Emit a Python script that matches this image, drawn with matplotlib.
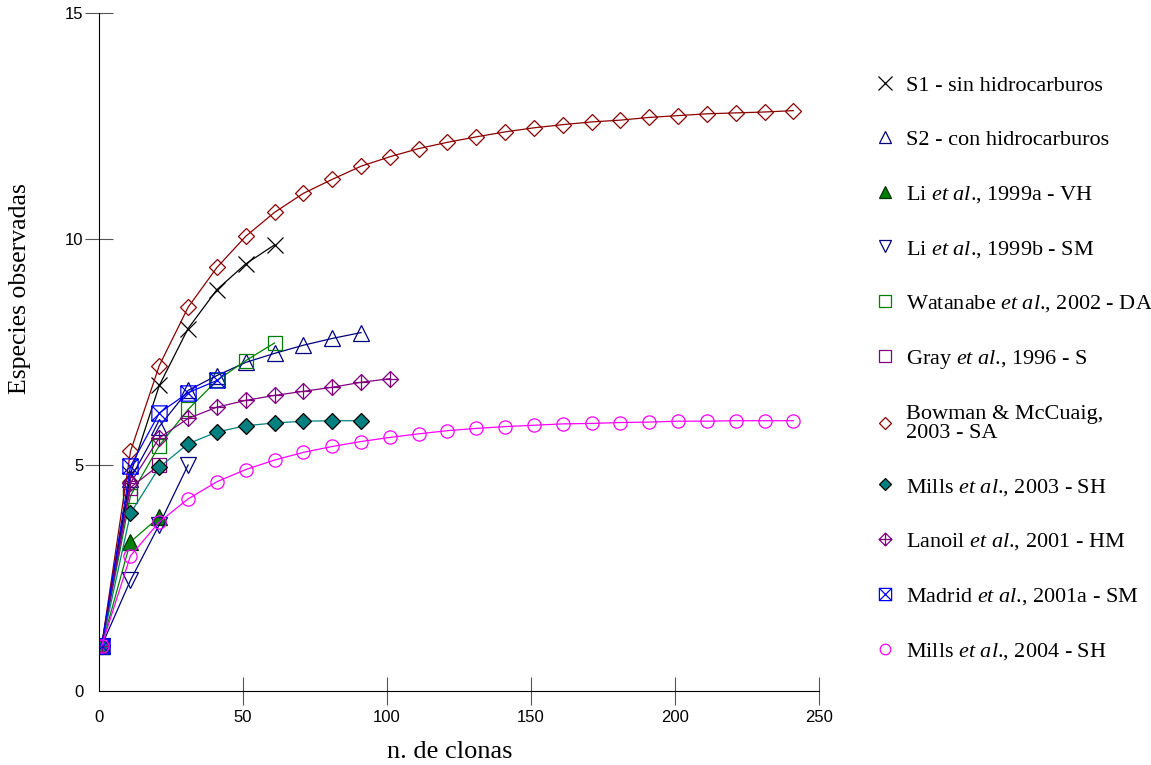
import numpy as np
import matplotlib
matplotlib.use('Agg')
import matplotlib.pyplot as plt
from matplotlib.path import Path

plt.rcParams['font.family'] = ['Liberation Serif', 'DejaVu Serif']
plt.rcParams['mathtext.fontset'] = 'custom'
plt.rcParams['mathtext.rm'] = 'Liberation Serif'
plt.rcParams['mathtext.it'] = 'Liberation Serif:italic'

# number of clones (x) for each series
x_s1 = [1, 11, 21, 31, 41, 51, 61]
y_s1 = [1, 4.8, 6.76, 8.02, 8.88, 9.45, 9.87]

x_s2 = [1, 11, 21, 31, 41, 51, 61, 71, 81, 91]
y_s2 = [1, 4.7, 5.85, 6.65, 6.98, 7.27, 7.47, 7.65, 7.8, 7.93]

x_li_a = [1, 11, 21]
y_li_a = [1, 3.3, 3.85]

x_li_b = [1, 11, 21, 31]
y_li_b = [1, 2.45, 3.68, 5.0]

x_wat = [1, 11, 21, 31, 41, 51, 61]
y_wat = [1, 4.32, 5.43, 6.23, 6.87, 7.31, 7.7]

x_gray = [1, 11, 21]
y_gray = [1, 4.5, 5.0]

x_bow = list(range(1, 242, 10))
y_bow = [1, 5.3, 7.2, 8.49, 9.37, 10.06, 10.59, 11.01, 11.32, 11.61, 11.82, 12.0,
         12.14, 12.26, 12.37, 12.46, 12.53, 12.59, 12.63, 12.69, 12.73, 12.77,
         12.79, 12.81, 12.84]

x_mills03 = [1, 11, 21, 31, 41, 51, 61, 71, 81, 91]
y_mills03 = [1, 3.93, 4.95, 5.47, 5.73, 5.87, 5.93, 5.97, 5.98, 5.98]

x_lanoil = [1, 11, 21, 31, 41, 51, 61, 71, 81, 91, 101]
y_lanoil = [1, 4.6, 5.6, 6.03, 6.28, 6.43, 6.54, 6.63, 6.72, 6.83, 6.91]

x_madrid = [1, 11, 21, 31, 41]
y_madrid = [1, 4.97, 6.15, 6.6, 6.87]

x_mills04 = list(range(1, 242, 10))
y_mills04 = [1, 2.99, 3.74, 4.25, 4.63, 4.9, 5.11, 5.28, 5.41, 5.52, 5.61, 5.69,
             5.76, 5.81, 5.85, 5.88, 5.91, 5.92, 5.94, 5.95, 5.97, 5.97, 5.98,
             5.98, 5.98]

labels = [
    'S1 - sin hidrocarburos',
    'S2 - con hidrocarburos',
    r'Li $\mathit{et\ al}$., 1999a - VH',
    r'Li $\mathit{et\ al}$., 1999b - SM',
    r'Watanabe $\mathit{et\ al}$., 2002 - DA',
    r'Gray $\mathit{et\ al}$., 1996 - S',
    'Bowman & McCuaig,\n2003 - SA',
    r'Mills $\mathit{et\ al}$., 2003 - SH',
    r'Lanoil $\mathit{et\ al}$., 2001 - HM',
    r'Madrid $\mathit{et\ al}$., 2001a - SM',
    r'Mills $\mathit{et\ al}$., 2004 - SH',
]

# custom markers: diamond with a cross, square with an X
diamond_plus = Path.make_compound_path(
    Path([(0, 1), (1, 0), (0, -1), (-1, 0), (0, 1)], closed=True),
    Path([(-1, 0), (1, 0)]), Path([(0, -1), (0, 1)]))
square_x = Path.make_compound_path(
    Path([(-1, -1), (1, -1), (1, 1), (-1, 1), (-1, -1)], closed=True),
    Path([(-1, -1), (1, 1)]), Path([(-1, 1), (1, -1)]))

fig = plt.figure(figsize=(11.51, 7.65), dpi=100)
ax = fig.add_axes([0.0858, 0.0967, 0.626, 0.8863])

lw = 0.9
mew = 0.9
ax.plot(x_s1, y_s1, color='black', lw=lw, marker='x', ms=12, mew=mew)
ax.plot(x_s2, y_s2, color='#000080', lw=lw, marker='^', ms=11, mew=mew,
        mfc='none', mec='#000080')
ax.plot(x_li_a, y_li_a, color='#008000', lw=lw, marker='^', ms=11, mew=mew,
        mfc='#008000', mec='#003300')
ax.plot(x_li_b, y_li_b, color='#000080', lw=lw, marker='v', ms=11, mew=mew,
        mfc='none', mec='#000080')
ax.plot(x_wat, y_wat, color='#008000', lw=lw, marker='s', ms=10.5, mew=mew,
        mfc='none', mec='#008000')
ax.plot(x_gray, y_gray, color='#800080', lw=lw, marker='s', ms=10.5, mew=mew,
        mfc='none', mec='#800080')
ax.plot(x_bow, y_bow, color='#8b0000', lw=lw, marker='D', ms=8, mew=mew,
        mfc='none', mec='#8b0000')
ax.plot(x_mills03, y_mills03, color='#008080', lw=lw, marker='D', ms=8, mew=mew,
        mfc='#008080', mec='black')
ax.plot(x_lanoil, y_lanoil, color='#800080', lw=lw, marker=diamond_plus, ms=11.5,
        mew=mew, mfc='none', mec='#800080')
ax.plot(x_madrid, y_madrid, color='#0000ff', lw=lw, marker=square_x, ms=11,
        mew=mew, mfc='none', mec='#0000ff')
ax.plot(x_mills04, y_mills04, color='#ff00ff', lw=lw, marker='o', ms=9.5,
        mew=mew, mfc='none', mec='#ff00ff')

ax.set_xlim(0, 250)
ax.set_ylim(0, 15)
ax.spines['top'].set_visible(False)
ax.spines['right'].set_visible(False)
ax.set_xticks([0, 50, 100, 150, 200, 250])
ax.set_yticks([0, 5, 10, 15])
tick_font = {'family': ['Liberation Sans Narrow', 'Liberation Sans'], 'size': 12}
ax.set_xticklabels(['0', '50', '100', '150', '200', '250'], fontdict=tick_font)
ax.set_yticklabels(['0', '5', '10', '15'], fontdict=tick_font)
ax.tick_params(axis='both', direction='inout', length=20, width=0.8,
               color='#555555')
ax.tick_params(axis='x', pad=4)
ax.tick_params(axis='y', pad=1)
ax.xaxis.get_major_ticks()[0].tick1line.set_visible(False)
ax.yaxis.get_major_ticks()[0].tick1line.set_visible(False)

ax.set_xlabel('n. de clonas', fontsize=19)
ax.set_ylabel('Especies observadas', fontsize=18.5)
ax.xaxis.set_label_coords(0.4876, -0.073)
ax.yaxis.set_label_coords(-0.094, 0.594)

leg = fig.legend(ax.get_lines(), labels, loc='upper left',
                 bbox_to_anchor=(0.748, 0.928), frameon=False, fontsize=16,
                 handlelength=0.4, handletextpad=0.72, labelspacing=1.52,
                 markerscale=0.8, numpoints=1)
leg.get_texts()[6].set_linespacing(1.0)
# legend shows the markers only
for h in leg.legend_handles:
    h.set_linestyle('none')

fig.savefig('out.png', dpi=100)
